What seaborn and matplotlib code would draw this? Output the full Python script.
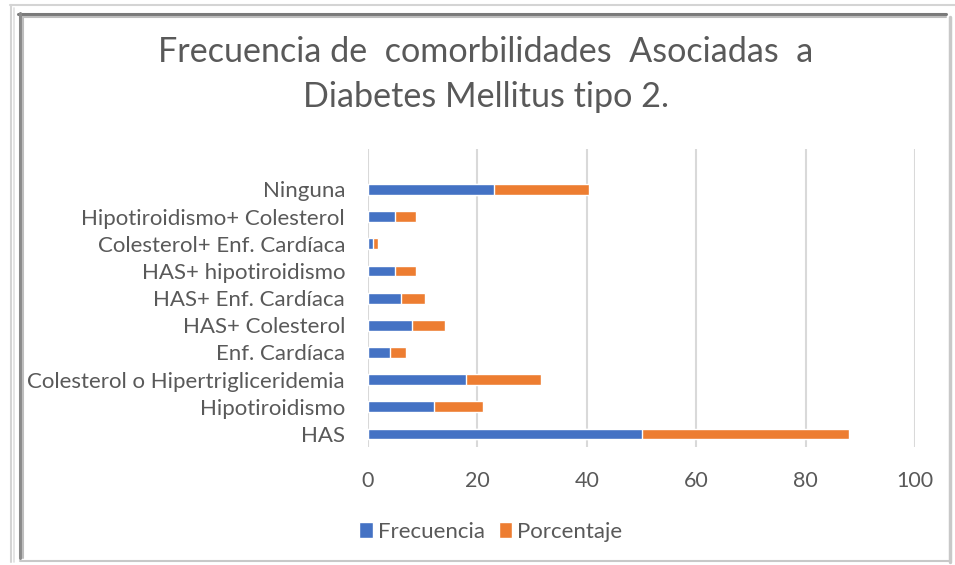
import matplotlib
matplotlib.use("Agg")
import matplotlib.pyplot as plt
import seaborn as sns
import pandas as pd
from matplotlib.patches import Patch
from matplotlib.lines import Line2D

categorias = ["Ninguna", "Hipotiroidismo+ Colesterol", "Colesterol+ Enf. Cardíaca",
              "HAS+ hipotiroidismo", "HAS+ Enf. Cardíaca", "HAS+ Colesterol",
              "Enf. Cardíaca", "Colesterol o Hipertrigliceridemia", "Hipotiroidismo", "HAS"]
frecuencia = [23, 5, 1, 5, 6, 8, 4, 18, 12, 50]
porcentaje = [17.4, 3.8, 0.76, 3.8, 4.5, 6.1, 3.0, 13.6, 9.1, 37.9]
xticks = [0, 20, 40, 60, 80, 100]

AZUL = "#4472C4"
NARANJA = "#ED7D31"
GRIS_TXT = "#595959"

sns.set_theme(style="white")
plt.rcParams["font.family"] = ["Lato", "DejaVu Sans"]

df = pd.DataFrame({"cat": categorias, "frec": frecuencia, "pct": porcentaje})
df["total"] = df["frec"] + df["pct"]

fig = plt.figure(figsize=(9.55, 5.65), dpi=100)
W, H = 955, 565
ax = fig.add_axes([368 / W, 1 - 447 / H, (915 - 368) / W, (447 - 149) / H])

sns.barplot(data=df, y="cat", x="total", color=NARANJA, orient="h", width=0.4,
            saturation=1, ax=ax, order=categorias)
sns.barplot(data=df, y="cat", x="frec", color=AZUL, orient="h", width=0.4,
            saturation=1, ax=ax, order=categorias)

ax.set_xlim(0, 100)
ax.set_ylim(9.48, -1.49)
ax.set_xticks(xticks)
ax.set_xticklabels([str(t) for t in xticks])
ax.set_xlabel("")
ax.set_ylabel("")
for s in ax.spines.values():
    s.set_visible(False)
ax.grid(axis="x", color="#d9d9d9", linewidth=1.5)
ax.set_axisbelow(True)
ax.tick_params(axis="x", length=0, labelsize=15.5, labelcolor=GRIS_TXT, pad=17)
ax.tick_params(axis="y", length=0, labelsize=16, labelcolor=GRIS_TXT, pad=16.5)

fig.text(486 / W, 1 - 52 / H, "Frecuencia de  comorbilidades  Asociadas  a",
         ha="center", va="center", fontsize=24.6, color=GRIS_TXT)
fig.text(486 / W, 1 - 97 / H, "Diabetes Mellitus tipo 2.",
         ha="center", va="center", fontsize=24.6, color=GRIS_TXT)

handles = [Patch(facecolor=AZUL, label="Frecuencia"),
           Patch(facecolor=NARANJA, label="Porcentaje")]
fig.legend(handles=handles, loc="center", bbox_to_anchor=(491 / W, 1 - 532 / H),
           ncol=2, frameon=False, fontsize=16, labelcolor=GRIS_TXT,
           handlelength=0.6, handleheight=0.75, handletextpad=0.25, columnspacing=0.6)

# Frame decoration
def hline(y, x0, x1, color, lw):
    fig.add_artist(Line2D([x0 / W, x1 / W], [1 - y / H, 1 - y / H], color=color, lw=lw,
                          transform=fig.transFigure))

def vline(x, y0, y1, color, lw):
    fig.add_artist(Line2D([x / W, x / W], [1 - y0 / H, 1 - y1 / H], color=color, lw=lw,
                          transform=fig.transFigure))

hline(5, 10, 955, "#d4d4d4", 1.5)
vline(11, 5, 562, "#d4d4d4", 1.5)
vline(14, 8, 562, "#e0e0e0", 1.2)
hline(14, 18, 946, "#7a7a7a", 2.2)
hline(16.5, 20, 946, "#bdbdbd", 1.5)
vline(20, 13, 558, "#8a8a8a", 2.2)
vline(23, 17, 558, "#bdbdbd", 1.5)
vline(950, 17, 562, "#c8c8c8", 2.5)
hline(561, 20, 950, "#c8c8c8", 1.5)

fig.savefig("out.png", dpi=100, facecolor="white")
